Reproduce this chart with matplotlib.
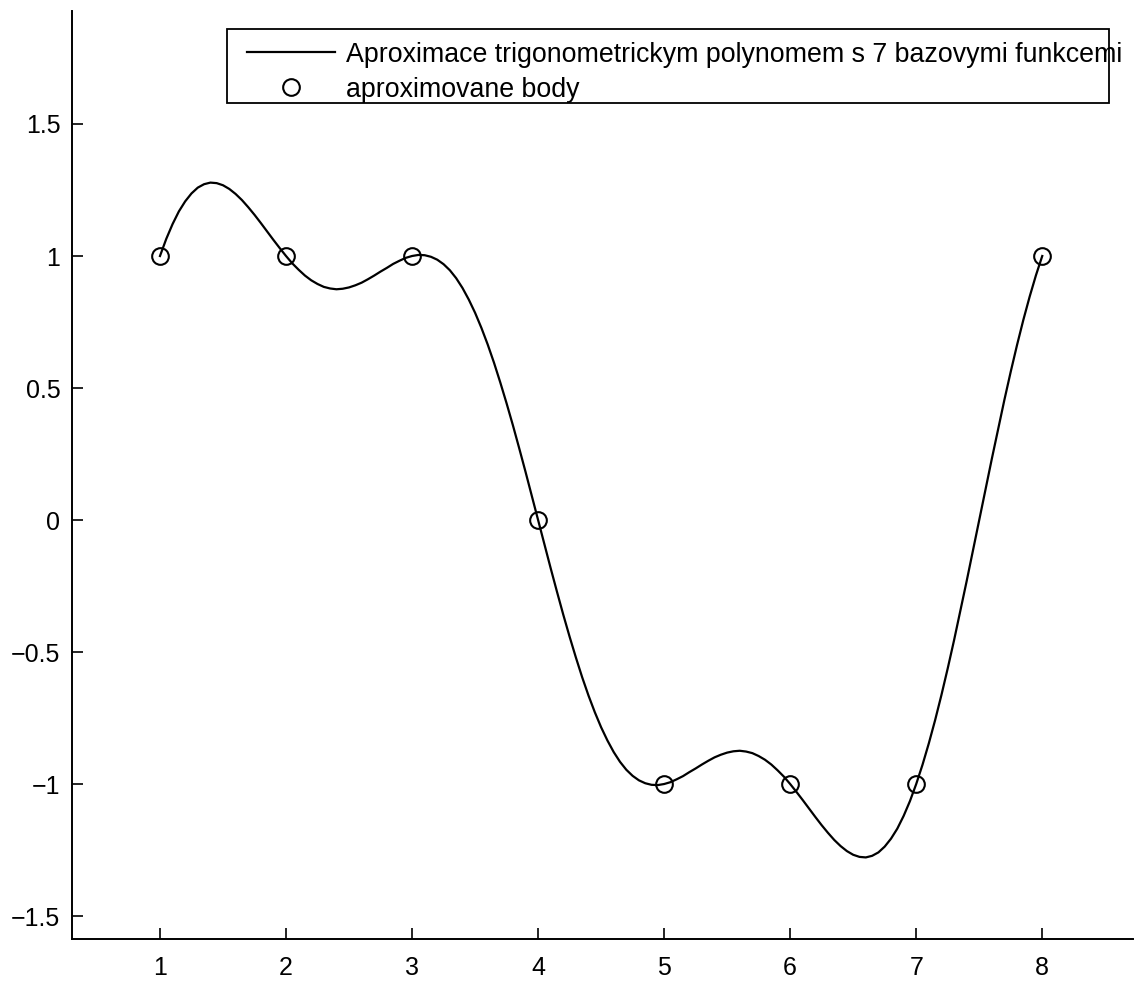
import numpy as np
import matplotlib
matplotlib.use('Agg')
import matplotlib.pyplot as plt
from matplotlib.patches import Rectangle

plt.rcParams['font.family'] = ['Liberation Sans', 'DejaVu Sans']

# aproximovane body
x_body = [1, 2, 3, 4, 5, 6, 7, 8]
y_body = [1, 1, 1, 0, -1, -1, -1, 1]

# krivka (krok 0.05 od 1 do 8)
y_krivka = [
    1.000, 1.065, 1.121, 1.169, 1.207, 1.237, 1.259, 1.272, 1.278, 1.276,
    1.268, 1.254, 1.235, 1.212, 1.185, 1.156, 1.125, 1.093, 1.061, 1.030,
    1.000, 0.972, 0.948, 0.926, 0.908, 0.894, 0.883, 0.877, 0.874, 0.876,
    0.881, 0.889, 0.899, 0.912, 0.926, 0.941, 0.955, 0.970, 0.982, 0.993,
    1.000, 1.004, 1.003, 0.997, 0.986, 0.969, 0.946, 0.916, 0.879, 0.835,
    0.785, 0.728, 0.665, 0.596, 0.521, 0.442, 0.359, 0.272, 0.183, 0.092,
    0.000, -0.092, -0.183, -0.272, -0.359, -0.442, -0.521, -0.596, -0.665, -0.728,
    -0.785, -0.835, -0.879, -0.916, -0.946, -0.969, -0.986, -0.997, -1.003, -1.004,
    -1.000, -0.993, -0.982, -0.970, -0.955, -0.941, -0.926, -0.912, -0.899, -0.889,
    -0.881, -0.876, -0.874, -0.877, -0.883, -0.894, -0.908, -0.926, -0.948, -0.972,
    -1.000, -1.030, -1.061, -1.093, -1.125, -1.156, -1.185, -1.212, -1.235, -1.254,
    -1.268, -1.276, -1.278, -1.272, -1.259, -1.237, -1.207, -1.169, -1.121, -1.065,
    -1.000, -0.927, -0.846, -0.758, -0.663, -0.562, -0.456, -0.345, -0.232, -0.117,
    0.000, 0.117, 0.232, 0.345, 0.456, 0.562, 0.663, 0.758, 0.846, 0.927,
    1.000]
x_krivka = np.linspace(1, 8, len(y_krivka))

xticks = [1, 2, 3, 4, 5, 6, 7, 8]
yticks = [-1.5, -1, -0.5, 0, 0.5, 1, 1.5]
ytick_labels = ['\u22121.5', '\u22121', '\u22120.5', '0', '0.5', '1', '1.5']

W, H = 1135, 989
fig = plt.figure(figsize=(W / 100, H / 100), dpi=100)
ax = fig.add_axes([71.5 / W, 1 - 939 / H, (1133 - 71.5) / W, (939 - 11) / H])

l1, = ax.plot(x_krivka, y_krivka, color='black', lw=1.6)
l2, = ax.plot(x_body, y_body, 'o', mfc='none', mec='black', ms=12, mew=1.5)

ax.set_xlim(0.298, 8.72)
ax.set_ylim(-1.587, 1.928)
ax.set_xticks(xticks)
ax.set_yticks(yticks)
ax.set_yticklabels(ytick_labels)
ax.spines['top'].set_visible(False)
ax.spines['right'].set_visible(False)
ax.spines['left'].set_linewidth(1.4)
ax.spines['bottom'].set_linewidth(1.4)
ax.tick_params(direction='in', length=8, width=1.2, labelsize=18)
ax.tick_params(axis='y', pad=8)
ax.tick_params(axis='x', pad=12)

# legenda
fig.legend([l1, l2], ['Aproximace trigonometrickym polynomem s 7 bazovymi funkcemi',
                      'aproximovane body'],
           loc='upper left', bbox_to_anchor=(228 / W, 1 - 23 / H),
           frameon=False, fontsize=19.3, handlelength=3.3, handletextpad=0.4,
           labelspacing=0.33, borderpad=0.2)
fig.patches.append(Rectangle((227 / W, 1 - 103 / H), (1109 - 227) / W, (103 - 29) / H,
                             transform=fig.transFigure, fill=False, ec='black', lw=1.3))

fig.savefig('out.png', dpi=100)
